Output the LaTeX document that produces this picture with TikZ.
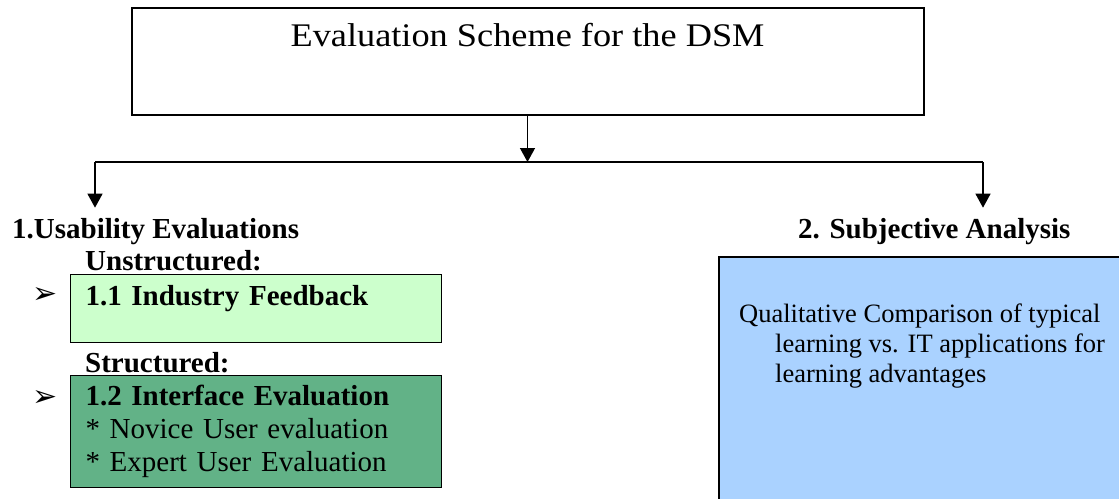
\documentclass[tikz,border=0pt]{standalone}
\usepackage{fontspec}
\setmainfont{Liberation Serif}
\newfontfamily\dingfont{DejaVu Sans}
\usetikzlibrary{arrows.meta}
\definecolor{fbGreen}{RGB}{204,255,204}
\definecolor{ifGreen}{RGB}{98,178,135}
\definecolor{saBlue}{RGB}{170,210,255}

\begin{document}
\begin{tikzpicture}[x=1pt, y=-1pt,
    hd/.style={inner sep=0pt, anchor=base west, font=\fontsize{29}{33}\selectfont\bfseries},
    evbox/.style={draw=black, line width=1pt, inner xsep=15pt, inner ysep=0pt,
                  text width=341pt, anchor=north west, align=left,
                  font=\fontsize{29}{33}\selectfont},
    bul/.style={inner sep=0pt, font=\dingfont\fontsize{30}{30}\selectfont},
    link/.style={line width=1.3pt},
    arr/.style={link, -{Triangle[length=14pt, width=15pt]}}
  ]
  \useasboundingbox (0,0) rectangle (1119,498);

  \node[draw, line width=2pt, minimum width=792pt, inner sep=0pt, anchor=north,
        text height=38pt, text depth=69pt, font=\fontsize{33}{38}\selectfont]
       (scheme) at (527.5,7) {\scalebox{1.1}[1]{Evaluation Scheme for the DSM}};

  \coordinate (busL) at (95,162);
  \coordinate (busR) at (983,162);

  % left branch
  \node[hd] (usab) at (12,238) {1.Usability Evaluations};
  \node[hd] (unstr) at (85,270) {Unstructured:};
  \node[evbox, fill=fbGreen, text height=31pt, text depth=37pt] (fb) at (70,274)
       {\textbf{1.1 Industry Feedback}};
  \node[hd] (str) at (85,372) {Structured:};
  \node[evbox, fill=ifGreen, minimum height=112pt] (iface) at (70,375)
       {\textbf{1.2 Interface Evaluation}\\{*} Novice User evaluation\\{*} Expert User Evaluation};
  \node[bul] (b1) at (45,295) {➢};
  \node[bul] (b2) at (45,398) {➢};

  % right branch
  \node[hd] (subj) at (798,238) {2. Subjective Analysis};
  \node[draw, line width=1.8pt, fill=saBlue, minimum width=404pt, minimum height=246pt,
        inner sep=0pt, anchor=north west] (cmp) at (718,256) {};
  \node[anchor=north west, align=left, inner sep=0pt, font=\fontsize{26.5}{30}\selectfont]
       (cmptxt) at (739,304) {Qualitative Comparison of typical\\
       \hspace*{36pt}learning vs. IT applications for\\
       \hspace*{36pt}learning advantages};

  \draw[arr] (scheme.south) -- (scheme.south |- busL);
  \draw[link] (busL) -- (busR);
  \draw[arr, shorten >=10pt] (busL) -- (busL |- usab.north);
  \draw[arr, shorten >=10pt] (busR) -- (busR |- subj.north);
\end{tikzpicture}
\end{document}
